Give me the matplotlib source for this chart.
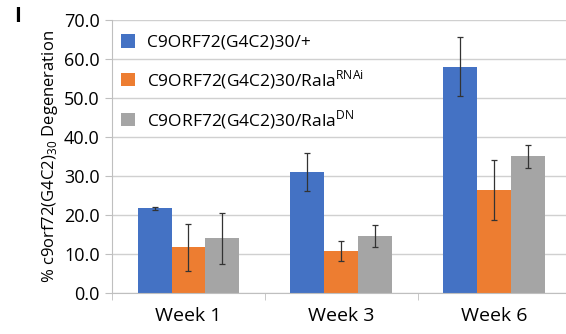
import numpy as np
import matplotlib
matplotlib.use("Agg")
import matplotlib.pyplot as plt

weeks = ["Week 1", "Week 3", "Week 6"]
labels = ["C9ORF72(G4C2)30/+",
          "C9ORF72(G4C2)30/Rala$^{\\mathregular{RNAi}}$",
          "C9ORF72(G4C2)30/Rala$^{\\mathregular{DN}}$"]
ctrl = [21.7, 31.0, 58.0]
ctrl_err = [0.4, 4.8, 7.6]
rnai = [11.7, 10.8, 26.4]
rnai_err = [6.0, 2.5, 7.8]
dn = [14.0, 14.6, 35.0]
dn_err = [6.6, 2.8, 3.0]
colors = ["#4472C4", "#ED7D31", "#A5A5A5"]

plt.rcParams['font.family'] = ['Open Sans', 'DejaVu Sans']
plt.rcParams['mathtext.fontset'] = 'custom'
plt.rcParams['mathtext.rm'] = 'Open Sans'

fig = plt.figure(figsize=(5.66, 3.34), dpi=100)
ax = fig.add_axes([0.198, 0.123, 0.81, 0.817])

x = np.arange(len(weeks))
w = 0.222
for k, (vals, errs) in enumerate([(ctrl, ctrl_err), (rnai, rnai_err), (dn, dn_err)]):
    ax.bar(x + (k - 1) * w, vals, w, color=colors[k], label=labels[k], zorder=2)
    ax.errorbar(x + (k - 1) * w, vals, yerr=errs, fmt='none', ecolor='#333333',
                elinewidth=0.9, capsize=2.5, capthick=0.9, zorder=3)

ax.set_xlim(-0.5, 2.5)
ax.set_ylim(0, 70)
ax.set_yticks(np.arange(0, 71, 10))
ax.set_yticklabels([f"{v:.1f}" for v in np.arange(0, 71, 10)], fontsize=13)
ax.set_xticks(x)
ax.set_xticklabels(weeks, fontsize=14)
ax.set_xticks([-0.5, 0.5, 1.5], minor=True)
ax.tick_params(axis='x', which='major', length=0, pad=10)
ax.tick_params(axis='x', which='minor', length=5, color='#bfbfbf')
ax.tick_params(axis='y', length=5, color='#bfbfbf', pad=4)
ax.grid(axis='y', color='#d0d0d0', linewidth=1, zorder=0)
for s in ['top', 'right']:
    ax.spines[s].set_visible(False)
ax.spines['left'].set_color('#bfbfbf')
ax.spines['bottom'].set_color('#bfbfbf')

ax.set_ylabel("% c9orf72(G4C2)$_{\\mathregular{30}}$ Degeneration", fontsize=12, labelpad=3)

ax.legend(loc='upper left', bbox_to_anchor=(-0.015, 1.005), frameon=False, fontsize=12.5,
          handlelength=0.8, handleheight=0.8, handletextpad=0.7, labelspacing=1.0)

fig.text(0.025, 0.935, "I", fontsize=15, fontweight='bold')

fig.savefig("out.png", dpi=100)
